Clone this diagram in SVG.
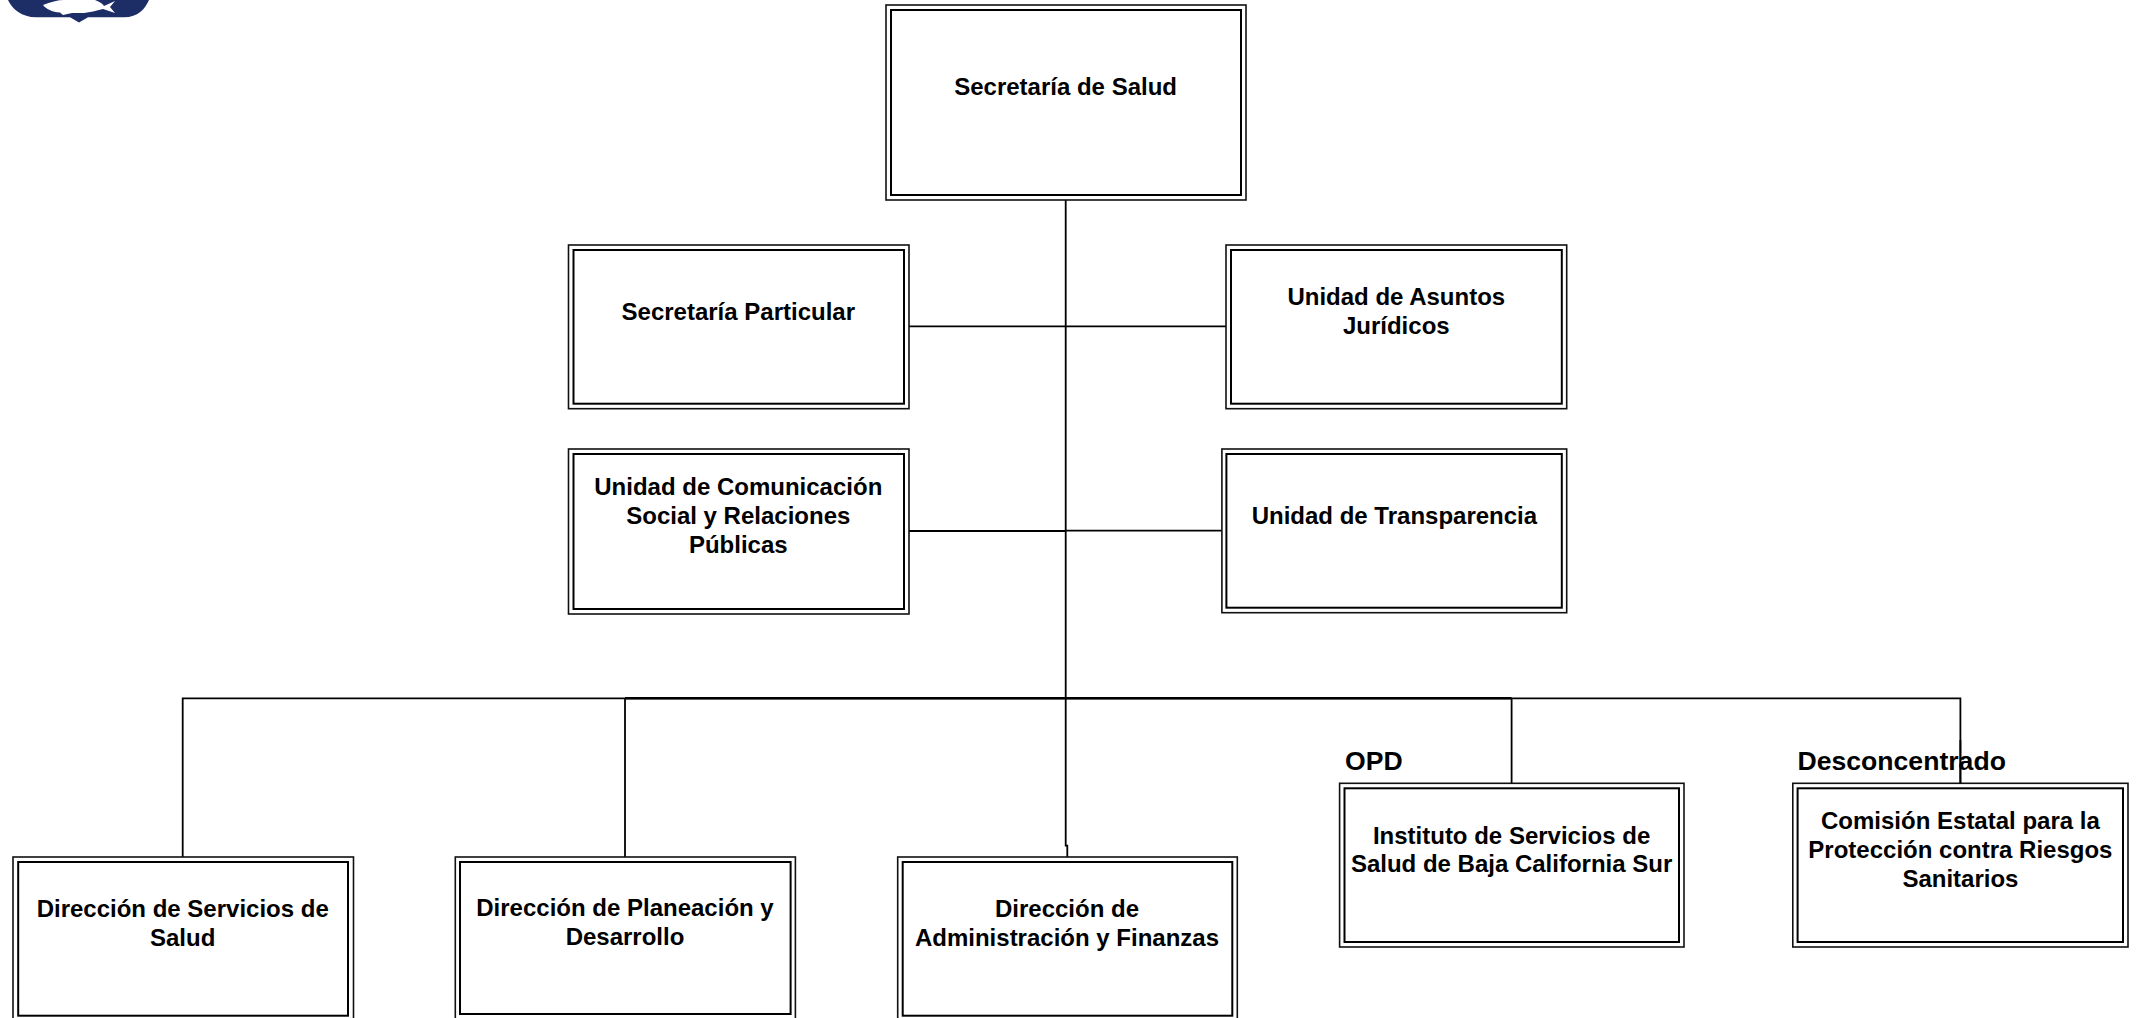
<svg xmlns="http://www.w3.org/2000/svg" width="2140" height="1018" viewBox="0 0 2140 1018">
<style>
.o{fill:#fff;stroke:#111;stroke-width:1.6}
.i{fill:#fff;stroke:#000;stroke-width:2}
.c{fill:none;stroke:#000;stroke-width:1.8}
.t{font-family:"Liberation Sans",Arial,sans-serif;font-weight:700;font-size:24px;fill:#000;text-anchor:middle}
.l{font-family:"Liberation Sans",Arial,sans-serif;font-weight:700;font-size:26.6px;fill:#000}
</style>
<rect width="2140" height="1018" fill="#fff"/>
<g id="logo">
<path d="M8 0C12 9 22 17.3 36 17.3H70L79 22.5L88 17.3H124C138 17.3 145 9 149 0Z" fill="#1d2d66"/>
<path d="M43 5C50 2 58 0 64 0H95C100 2 103 4 104 6L115 1L110 7L115 13L103 9C96 11 90 12 84 13L72 13L63 15L60 12.5C52 12 46 9 43 5Z" fill="#fff"/>
</g>
<g id="connectors">
<path class="c" d="M1065.7 200V845.7H1067.3V857"/>
<path class="c" d="M909 326.3H1226"/>
<path class="c" d="M909 531H1066M1066 530.7H1221.9"/>
<path class="c" d="M182.7 857V698.3H1960.4V783.3"/>
<path class="c" style="stroke-width:2.4" d="M625 698.3H1511.6"/>
<path class="c" d="M625 698.3V857"/>
<path class="c" d="M1511.6 698.3V783.3"/>
</g>
<g id="secretaria-salud"><rect class="o" x="886" y="5" width="360" height="195"/><rect class="i" x="891" y="10" width="350" height="185"/><text class="t" x="1065.6" y="95">Secretaría de Salud</text></g>
<g id="secretaria-particular"><rect class="o" x="568.5" y="245" width="340.5" height="163.7"/><rect class="i" x="573.5" y="250" width="330.5" height="153.7"/><text class="t" x="738.3" y="320">Secretaría Particular</text></g>
<g id="unidad-comunicacion"><rect class="o" x="568.5" y="449" width="340.5" height="165"/><rect class="i" x="573.5" y="454" width="330.5" height="155"/><text class="t" x="738.3" y="495">Unidad de Comunicación</text><text class="t" x="738.3" y="524">Social y Relaciones</text><text class="t" x="738.3" y="552.7">Públicas</text></g>
<g id="unidad-asuntos"><rect class="o" x="1226" y="245" width="340.7" height="163.7"/><rect class="i" x="1231" y="250" width="330.8" height="153.7"/><text class="t" x="1396.3" y="305">Unidad de Asuntos</text><text class="t" x="1396.3" y="334">Jurídicos</text></g>
<g id="unidad-transparencia"><rect class="o" x="1221.9" y="449" width="344.8" height="163.7"/><rect class="i" x="1226.4" y="454" width="335.4" height="153.7"/><text class="t" x="1394.4" y="524">Unidad de Transparencia</text></g>
<g id="direccion-servicios"><rect class="o" x="13" y="857" width="340.5" height="165"/><rect class="i" x="18.2" y="862" width="329.8" height="153.7"/><text class="t" x="182.7" y="916.7">Dirección de Servicios de</text><text class="t" x="182.7" y="945.7">Salud</text></g>
<g id="direccion-planeacion"><rect class="o" x="455.3" y="857" width="340.1" height="165"/><rect class="i" x="460" y="862" width="330.6" height="152"/><text class="t" x="625" y="916">Dirección de Planeación y</text><text class="t" x="625" y="944.7">Desarrollo</text></g>
<g id="direccion-administracion"><rect class="o" x="897.7" y="857" width="339.6" height="165"/><rect class="i" x="902.7" y="862" width="329.6" height="153.7"/><text class="t" x="1067" y="916.7">Dirección de</text><text class="t" x="1067" y="945.7">Administración y Finanzas</text></g>
<g id="instituto"><text class="l" x="1345" y="770">OPD</text><rect class="o" x="1339.6" y="783.3" width="344.4" height="163.7"/><rect class="i" x="1344.5" y="788.3" width="334.5" height="153.7"/><text class="t" x="1511.6" y="844">Instituto de Servicios de</text><text class="t" x="1511.6" y="871.7">Salud de Baja California Sur</text></g>
<g id="comision"><text class="l" x="1797.5" y="770">Desconcentrado</text><rect class="o" x="1792.8" y="783.3" width="335.2" height="163.7"/><rect class="i" x="1797.6" y="788.3" width="325.4" height="153.7"/><text class="t" x="1960.4" y="829">Comisión Estatal para la</text><text class="t" x="1960.4" y="857.5">Protección contra Riesgos</text><text class="t" x="1960.4" y="886.7">Sanitarios</text></g>
<path class="c" d="M1960.4 740V783.3"/>
</svg>
